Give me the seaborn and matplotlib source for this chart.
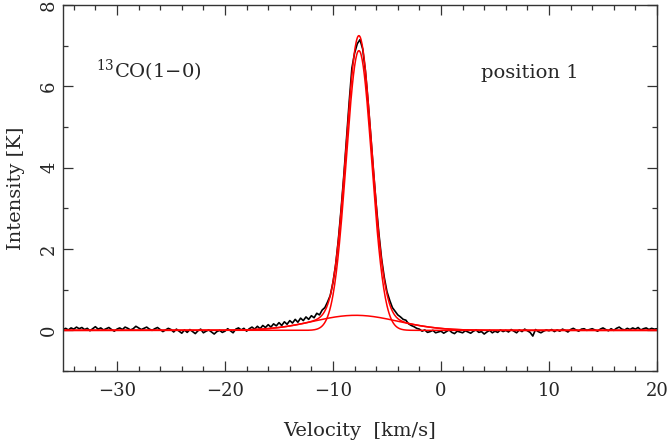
import numpy as np
import matplotlib
matplotlib.use('Agg')
import matplotlib.pyplot as plt
import seaborn as sns

# Observed 13CO(1-0) spectrum, channels of 0.25 km/s starting at -35 km/s
v_start = -35.0
dv = 0.25
intensity = [
    # -35.00 .. -30.25
    0.02, 0.05, 0.01, 0.06, 0.03, 0.08, 0.04, 0.07, 0.02, 0.05,
    -0.01, 0.04, 0.09, 0.03, 0.06, 0.01, 0.04, 0.07, 0.02, -0.02,
    # -30.00 .. -25.25
    0.03, 0.06, 0.02, 0.08, 0.05, 0.01, 0.04, 0.10, 0.06, 0.02,
    0.05, 0.08, 0.03, 0.00, 0.04, 0.07, 0.02, -0.03, 0.01, 0.05,
    # -25.00 .. -20.25
    0.02, -0.04, 0.03, -0.02, -0.07, 0.01, -0.05, 0.02, -0.03, -0.08,
    -0.01, 0.03, -0.06, -0.02, 0.01, -0.04, -0.09, -0.03, 0.00, -0.05,
    # -20.00 .. -17.25
    -0.02, 0.04, -0.01, -0.06, 0.03, 0.06, 0.01, 0.05, -0.02, 0.04, 0.08, 0.03,
    # -17.00 .. -12.25
    0.10, 0.04, 0.12, 0.07, 0.14, 0.08, 0.16, 0.11, 0.19, 0.12,
    0.21, 0.15, 0.24, 0.18, 0.27, 0.20, 0.30, 0.24, 0.33, 0.27,
    # -12.00 .. -10.25
    0.36, 0.31, 0.42, 0.38, 0.50, 0.56, 0.70, 0.86,
    # -10.00 .. -2.25
    1.18, 1.62, 2.24, 2.98, 3.80, 4.70, 5.62, 6.45, 6.82, 7.05,
    7.15, 6.92, 6.38, 5.62, 4.78, 3.90, 3.10, 2.38, 1.76, 1.30,
    0.95, 0.74, 0.56, 0.47, 0.38, 0.33, 0.27, 0.25, 0.16, 0.12,
    0.09, 0.05,
    # -2.00 .. 1.75
    0.03, -0.02, 0.01, -0.05, -0.03, 0.00, -0.06, -0.04,
    -0.02, -0.07, -0.03, 0.01, -0.05, -0.08, -0.02, -0.04,
    # 2.00 .. 5.75
    -0.06, -0.01, -0.04, -0.07, -0.02, 0.01, -0.05, -0.03,
    -0.09, -0.04, 0.00, -0.06, -0.02, -0.05, 0.01, -0.03,
    # 6.00 .. 9.75
    0.00, -0.04, 0.02, -0.02, -0.06, 0.01, -0.03, 0.03,
    -0.01, -0.05, -0.14, 0.02, -0.03, -0.06, -0.02, 0.01,
    # 10.00 .. 13.75
    -0.01, 0.02, -0.03, 0.01, -0.02, 0.03, 0.00, -0.04,
    0.02, 0.05, 0.01, -0.02, 0.03, 0.04, 0.00, 0.02,
    # 14.00 .. 17.75
    0.04, 0.01, -0.02, 0.03, 0.06, 0.02, -0.01, 0.04,
    0.00, 0.05, 0.08, 0.03, 0.01, 0.05, 0.02, 0.06,
    # 18.00 .. 20.00
    0.03, 0.07, 0.01, 0.04, 0.06, 0.02, 0.05, 0.03, 0.04,
]

# Gaussian fit components: amplitude [K], centre [km/s], sigma [km/s]
fit_amp = [6.88, 0.37]
fit_center = [-7.6, -7.9]
fit_sigma = [1.18, 3.9]

line_label = r'$^{13}$CO(1$-$0)'
position_label = 'position 1'

velocity = v_start + dv * np.arange(len(intensity))
v_model = np.linspace(-35, 20, 1101)
components = [a * np.exp(-0.5 * ((v_model - c) / s) ** 2)
              for a, c, s in zip(fit_amp, fit_center, fit_sigma)]
total = np.sum(components, axis=0)

sns.set_theme(style='ticks')
plt.rcParams['font.family'] = ['DejaVu Serif']
plt.rcParams['mathtext.fontset'] = 'dejavuserif'

fig = plt.figure(figsize=(6.7, 4.43), dpi=100)
ax = fig.add_axes([0.094, 0.1625, 0.8866, 0.826])

sns.lineplot(x=velocity, y=intensity, ax=ax, color='black', lw=1.2)
for comp in components:
    sns.lineplot(x=v_model, y=comp, ax=ax, color='red', lw=1.1)
sns.lineplot(x=v_model, y=total, ax=ax, color='red', lw=1.1)

ax.set_xlim(-35, 20)
ax.set_ylim(-1, 8)
ax.set_xticks([-30, -20, -10, 0, 10, 20])
ax.set_xticks(np.arange(-34, 21, 2), minor=True)
ax.set_yticks([0, 2, 4, 6, 8])
ax.set_yticks(np.arange(-1, 9, 1), minor=True)
ax.set_xticklabels(['\u221230', '\u221220', '\u221210', '0', '10', '20'])
ax.tick_params(which='both', direction='in', top=True, right=True,
               color='#333333', labelsize=13)
ax.tick_params(which='major', length=7, width=0.9)
ax.tick_params(which='minor', length=3.5, width=0.9)
ax.tick_params(axis='x', pad=8)
for lab in ax.get_yticklabels():
    lab.set_rotation(90)
    lab.set_va('center')
for sp in ax.spines.values():
    sp.set_color('#333333')
    sp.set_linewidth(1.0)

ax.set_xlabel('Velocity  [km/s]', fontsize=14, labelpad=16)
ax.set_ylabel('Intensity [K]', fontsize=14, labelpad=11)

ax.text(0.055, 0.80, line_label, transform=ax.transAxes, fontsize=14)
ax.text(0.703, 0.80, position_label, transform=ax.transAxes, fontsize=14)

fig.savefig('out.png', dpi=100)
